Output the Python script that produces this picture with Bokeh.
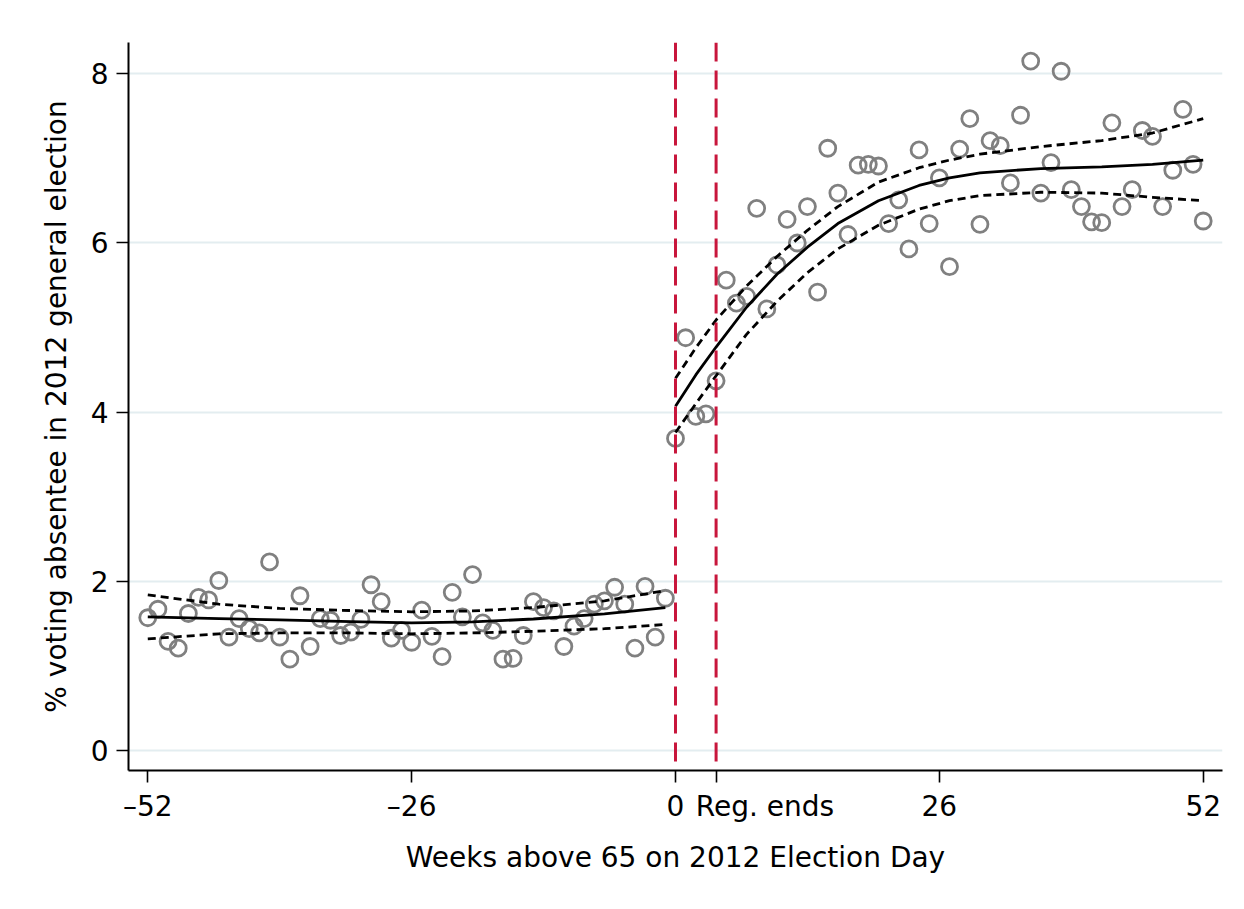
from bokeh.plotting import figure
from bokeh.models import Range1d, FixedTicker, Span
from bokeh.embed import file_html
from bokeh.resources import INLINE

# ---- data ----
weeks_left = list(range(-52, 0))
pct_left = [1.57, 1.67, 1.29, 1.21, 1.62, 1.81, 1.78, 2.01, 1.34, 1.56,
            1.44, 1.39, 2.23, 1.34, 1.08, 1.83, 1.23, 1.56, 1.54, 1.36,
            1.40, 1.55, 1.96, 1.76, 1.33, 1.42, 1.28, 1.66, 1.35, 1.11,
            1.87, 1.58, 2.08, 1.51, 1.42, 1.08, 1.09, 1.36, 1.76, 1.69,
            1.65, 1.23, 1.47, 1.56, 1.73, 1.77, 1.93, 1.73, 1.21, 1.94,
            1.34, 1.80]
weeks_right = list(range(0, 53))
pct_right = [3.69, 4.88, 3.95, 3.98, 4.37, 5.56, 5.29, 5.37, 6.41, 5.22,
             5.74, 6.28, 6.00, 6.43, 5.42, 7.12, 6.59, 6.10, 6.92, 6.93,
             6.91, 6.23, 6.51, 5.93, 7.10, 6.23, 6.77, 5.72, 7.11, 7.47,
             6.22, 7.21, 7.15, 6.71, 7.51, 8.15, 6.59, 6.95, 8.03, 6.63,
             6.43, 6.25, 6.24, 7.42, 6.43, 6.63, 7.33, 7.26, 6.43, 6.86,
             7.58, 6.93, 6.26]

fit_left_x = [-52, -45, -39, -32, -26, -20, -14, -7, -1]
fit_left = [1.58, 1.56, 1.545, 1.525, 1.51, 1.52, 1.555, 1.615, 1.69]
fit_left_hi = [1.84, 1.73, 1.68, 1.655, 1.64, 1.65, 1.69, 1.77, 1.89]
fit_left_lo = [1.32, 1.38, 1.39, 1.39, 1.38, 1.39, 1.41, 1.44, 1.49]

fit_right_x = [0, 2, 4, 7, 10, 13, 16, 20, 24, 27, 30, 36, 42, 47, 52]
fit_right = [4.07, 4.44, 4.77, 5.24, 5.63, 5.95, 6.23, 6.50, 6.68, 6.77,
             6.83, 6.88, 6.90, 6.93, 6.98]
fit_right_hi = [4.40, 4.76, 5.09, 5.49, 5.84, 6.15, 6.43, 6.72, 6.89, 6.98,
                7.05, 7.14, 7.21, 7.30, 7.47]
fit_right_lo = [3.76, 4.10, 4.43, 4.92, 5.31, 5.65, 5.93, 6.21, 6.40, 6.50,
                6.56, 6.60, 6.59, 6.54, 6.50]

cutoffs = [0, 4]
x_ticks = [-52, -26, 0, 4, 26, 52]
x_tick_labels = ["\u201352", "\u201326", "0", "\u00a0" * 11 + "Reg. ends", "26", "52"]
y_ticks = [0, 2, 4, 6, 8]

FONT = "DejaVu Sans"
FS = "28px"

p = figure(width=1228, height=893, output_backend="svg", toolbar_location=None,
           x_range=Range1d(-53.9, 53.9), y_range=Range1d(-0.236, 8.37),
           min_border_left=128, min_border_right=6, min_border_top=42,
           min_border_bottom=123)
p.outline_line_color = None
p.background_fill_color = "white"
p.border_fill_color = "white"

# grid
p.xgrid.grid_line_color = None
p.ygrid.grid_line_color = "#e3edf0"
p.ygrid.grid_line_width = 1.8
p.ygrid.ticker = FixedTicker(ticks=y_ticks)

# axes
p.xaxis.ticker = FixedTicker(ticks=x_ticks)
p.xaxis.major_label_overrides = {t: l for t, l in zip(x_ticks, x_tick_labels)}
p.yaxis.ticker = FixedTicker(ticks=y_ticks)
for ax in (p.xaxis, p.yaxis):
    ax.axis_line_color = "black"
    ax.axis_line_width = 2
    ax.major_tick_line_color = "black"
    ax.major_tick_line_width = 1.6
    ax.major_tick_out = 12
    ax.major_tick_in = 0
    ax.minor_tick_line_color = None
    ax.major_label_text_font = FONT
    ax.major_label_text_font_size = FS
    ax.major_label_text_color = "black"
    ax.axis_label_text_font = FONT
    ax.axis_label_text_font_size = FS
    ax.axis_label_text_font_style = "normal"
    ax.axis_label_text_color = "black"
p.xaxis.axis_label = "Weeks above 65 on 2012 Election Day"
p.yaxis.axis_label = "% voting absentee in 2012 general election"
p.xaxis.major_label_standoff = 7
p.yaxis.major_label_standoff = 8
p.xaxis.axis_label_standoff = 15
p.yaxis.axis_label_standoff = 15

# cutoff lines
for c in cutoffs:
    p.add_layout(Span(location=c, dimension="height", line_color="#c8163c",
                      line_width=3, line_dash="19 9"))

# scatter
p.scatter(weeks_left, pct_left, marker="circle", size=16, fill_color=None,
          line_color="#808080", line_width=2.8)
p.scatter(weeks_right, pct_right, marker="circle", size=16, fill_color=None,
          line_color="#808080", line_width=2.8)

# fits
for xs, ys, dash in [(fit_left_x, fit_left, "solid"), (fit_left_x, fit_left_hi, "8 5"),
                     (fit_left_x, fit_left_lo, "8 5"), (fit_right_x, fit_right, "solid"),
                     (fit_right_x, fit_right_hi, "8 5"), (fit_right_x, fit_right_lo, "8 5")]:
    p.line(xs, ys, line_color="black", line_width=2.8, line_dash=dash,
           line_join="round")

open("out.html", "w").write(file_html(p, INLINE))
